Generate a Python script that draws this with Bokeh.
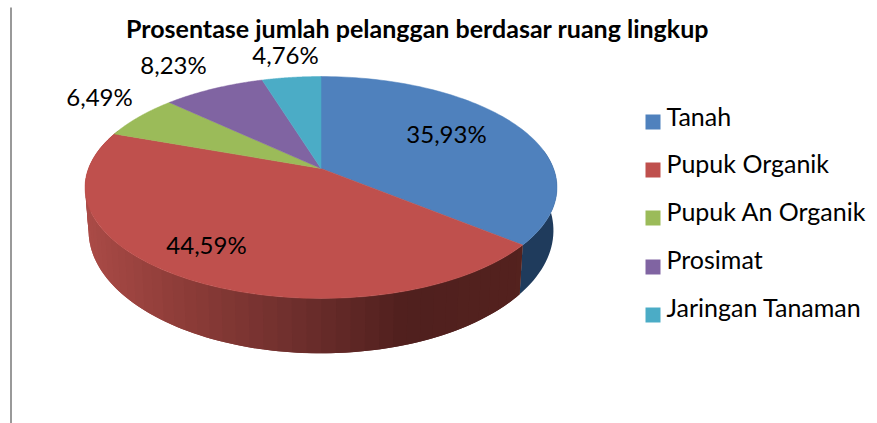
import numpy as np
from bokeh.plotting import figure
from bokeh.models import Range1d
from bokeh.embed import file_html
from bokeh.resources import INLINE

title = "Prosentase jumlah pelanggan berdasar ruang lingkup"
categories = ["Tanah", "Pupuk Organik", "Pupuk An Organik", "Prosimat", "Jaringan Tanaman"]
percent = [35.93, 44.59, 6.49, 8.23, 4.76]
colors = ["#4f81bd", "#bf504d", "#9bbb59", "#8064a2", "#4bacc6"]

# layout (screen pixels of the window)
CX, CY = 320.5, 168.0
A, B, K = 232.5, 107.7, 0.171
WALL_D, WALL_SX, WALL_SY = 41.0, 0.985, 1.107
label_xy = [(446, 133), (206, 244), (99, 96), (173, 64), (285, 54)]
legend_y = [121.5, 169.5, 217.5, 266.5, 314.5]
legend_text_y = [115, 162, 210, 258, 306]
FONT = "Lato"


def project(theta, wall=False):
    u, v = np.sin(theta), np.cos(theta)
    w = 1 + K * v
    x, y = u * A / w, -v * B / w
    if wall:
        return CX + WALL_SX * x, CY + WALL_D + WALL_SY * y
    return CX + x, CY + y


p = figure(width=877, height=423, output_backend="svg", toolbar_location=None,
           x_range=Range1d(0, 877), y_range=Range1d(423, 0),
           min_border=0, outline_line_color=None, background_fill_color="white")
p.axis.visible = False
p.grid.visible = False

# page rule on the left
p.line([10.5, 10.5], [7, 423], line_color="#999999", line_width=2)

edges = np.radians(np.concatenate([[0], np.cumsum(percent)]) * 3.6)

# side wall
shade_x = [85, 200, 320, 420, 520]
shade_r = [172, 140, 108, 80, 84]
shade_g = [76, 60, 46, 32, 34]
shade_b = [72, 56, 44, 30, 30]
start_t, end_t = np.radians(80), np.radians(292)
seg = np.linspace(start_t, end_t, 71)
step = seg[1] - seg[0]
# blue part first, as one flat wall
th = np.linspace(start_t, edges[1], 30)
x1, y1 = project(th)
x2, y2 = project(th[::-1], wall=True)
p.patch(np.concatenate([x1, x2]), np.concatenate([y1, y2]), fill_color="#1f3b5c", line_color=None)
# red part, drawn from the far end so that each band overlaps its neighbour
for a in seg[::-1]:
    lo, hi = max(a, edges[1]), a + step * 2
    hi = min(hi, end_t)
    if lo >= hi:
        continue
    th = np.linspace(lo, hi, 4)
    x1, y1 = project(th)
    x2, y2 = project(th[::-1], wall=True)
    mx = (project(np.array([a + step / 2]))[0][0] + project(np.array([a + step / 2]), wall=True)[0][0]) / 2
    col = "#%02x%02x%02x" % (int(np.interp(mx, shade_x, shade_r)),
                             int(np.interp(mx, shade_x, shade_g)),
                             int(np.interp(mx, shade_x, shade_b)))
    p.patch(np.concatenate([x1, x2]), np.concatenate([y1, y2]), fill_color=col, line_color=None)

# top face
for i, c in enumerate(colors):
    th = np.linspace(edges[i], edges[i + 1], 90)
    x, y = project(th)
    p.patch(np.concatenate([[CX], x]), np.concatenate([[CY], y]),
            fill_color=c, line_color=c, line_width=0.5)

# data labels
labels = [f"{v:.2f}%".replace(".", ",") for v in percent]
p.text([q[0] for q in label_xy], [q[1] for q in label_xy], text=labels,
       text_font={"value": FONT}, text_font_size="24px", text_color="black",
       text_align="center", text_baseline="middle")

# title
p.text([417], [27], text=[title], text_font={"value": FONT}, text_font_style="bold",
       text_font_size="25px", text_color="black", text_align="center", text_baseline="middle")

# legend
p.scatter([652.5] * 5, legend_y, marker="square", size=15, fill_color=colors, line_color=None)
p.text([666] * 5, legend_text_y, text=categories, text_font={"value": FONT},
       text_font_size="25px", text_color="black", text_align="left", text_baseline="middle")

open("out.html", "w").write(file_html(p, INLINE))
